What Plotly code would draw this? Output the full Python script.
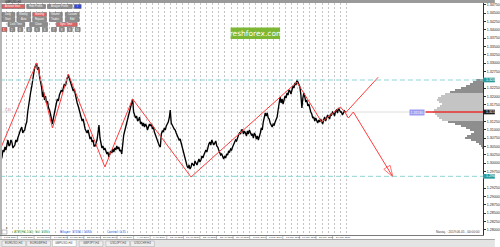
import plotly.graph_objects as go

# ---------------- data ----------------
# close price of each H4 bar, in units of 0.0001 (bar index = position)
close_x1e4 = [
    13024, 13009, 13018, 13039, 13033, 13048, 13039, 13060, 13069, 13051, 13054, 13069, 13063, 13045, 13051,
    13054, 13069, 13063, 13075, 13087, 13093, 13102, 13108, 13090, 13096, 13099, 13114, 13123, 13153, 13177,
    13198, 13213, 13228, 13255, 13267, 13285, 13291, 13300, 13279, 13288, 13258, 13243, 13228, 13198, 13213,
    13189, 13201, 13180, 13186, 13165, 13159, 13147, 13135, 13117, 13135, 13153, 13165, 13180, 13192, 13186,
    13204, 13210, 13219, 13213, 13231, 13237, 13231, 13249, 13255, 13264, 13255, 13249, 13237, 13228, 13216,
    13222, 13204, 13192, 13180, 13171, 13159, 13150, 13138, 13126, 13132, 13108, 13102, 13096, 13090, 13099,
    13078, 13072, 13078, 13063, 13069, 13051, 13051, 13060, 13069, 13090, 13114, 13075, 13054, 13045, 13051,
    13039, 13045, 13036, 13027, 13033, 13018, 13027, 13036, 13030, 13042, 13033, 13045, 13039, 13051, 13042,
    13048, 13036, 13039, 13027, 13060, 13084, 13096, 13108, 13120, 13135, 13150, 13165, 13177, 13186, 13192,
    13153, 13144, 13135, 13141, 13126, 13129, 13138, 13117, 13123, 13111, 13120, 13108, 13117, 13111, 13099,
    13108, 13117, 13111, 13117, 13102, 13108, 13093, 13084, 13075, 13066, 13060, 13051, 13048, 13087, 13096,
    13093, 13105, 13099, 13111, 13117, 13123, 13135, 13159, 13120, 13111, 13108, 13102, 13099, 13090, 13084,
    13078, 13069, 13072, 13060, 13045, 13033, 13018, 13009, 12997, 12991, 12985, 12994, 12982, 12988, 13000,
    12997, 12991, 13006, 13000, 12994, 13003, 13012, 13003, 13009, 13021, 13015, 13024, 13036, 13039, 13033,
    13051, 13057, 13063, 13054, 13069, 13063, 13054, 13060, 13066, 13051, 13048, 13039, 13033, 13024, 13027,
    13018, 13012, 13021, 13015, 13027, 13024, 13036, 13033, 13042, 13039, 13048, 13057, 13060, 13069, 13066,
    13078, 13084, 13090, 13087, 13099, 13099, 13087, 13096, 13090, 13081, 13096, 13087, 13099, 13093, 13084,
    13087, 13075, 13090, 13084, 13072, 13081, 13069, 13078, 13090, 13105, 13099, 13123, 13138, 13150, 13141,
    13150, 13135, 13132, 13120, 13111, 13108, 13117, 13114, 13123, 13132, 13138, 13159, 13174, 13198, 13180,
    13192, 13177, 13189, 13201, 13195, 13210, 13204, 13219, 13216, 13207, 13219, 13231, 13225, 13240, 13234,
    13249, 13243, 13237, 13228, 13204, 13165, 13195, 13210, 13198, 13183, 13189, 13171, 13177, 13159, 13153,
    13147, 13135, 13138, 13126, 13135, 13129, 13120, 13129, 13123, 13132, 13126, 13117, 13129, 13138, 13126,
    13135, 13144, 13138, 13132, 13147, 13144, 13153, 13150, 13141, 13156, 13159, 13150, 13165, 13159, 13153,
    13153, 13144, 13150, 13156, 13153]
bar_x = list(range(len(close_x1e4)))
close = [v / 10000 for v in close_x1e4]

zz_x = [0, 37, 53, 69, 106, 134, 193, 300, 325, 344, 349]
zz_p = [1.3039, 1.3300, 1.3105, 1.3267, 1.2988, 1.3192, 1.2958, 1.3243, 1.3123, 1.3168, 1.3150]
up_x = [349, 382]
up_p = [1.3150, 1.3257]
dn_x = [349, 352, 357, 397]
dn_p = [1.3150, 1.3135, 1.3153, 1.2958]

level_hi = 1.3249
level_lo = 1.2960
last_price = 1.3153

profile_prices = [1.3249, 1.3243, 1.3237, 1.3231, 1.3225, 1.3219, 1.3213, 1.3207, 1.3201, 1.3195, 1.3189,
                  1.3183, 1.3177, 1.3171, 1.3165, 1.3159, 1.3153, 1.3147, 1.3141, 1.3135, 1.3129, 1.3123,
                  1.3117, 1.3111, 1.3105, 1.3099, 1.3093, 1.3087, 1.3081, 1.3075, 1.3069, 1.3063, 1.3057,
                  1.3051, 1.3045]
profile_vol = [7, 10, 13, 17, 22, 28, 33, 38, 42, 45, 46, 44, 41, 43, 46, 50, 51, 48, 46, 44, 41, 35, 28,
               22, 17, 13, 9, 12, 16, 18, 12, 7, 4, 2, 1]
value_area = (1.3128, 1.3208)

date_labels = ["1 Mar 2019", "6 Mar 2019", "11 Mar 2019", "14 Mar 2019", "19 Mar 2019", "22 Mar 2019",
               "27 Mar 2019", "1 Apr 2019", "4 Apr 2019", "9 Apr 2019", "12 Apr 2019", "17 Apr 2019",
               "22 Apr 2019", "25 Apr 2019", "30 Apr 2019", "3 May 2019", "8 May 2019", "13 May 2019",
               "16 May 2019", "21 May 2019", "24 May 2019"]

# ---------------- layout helpers ----------------
W, H = 500, 247
PL, PR, PT, PB = 0, 488, 3, 235
Y_RANGE = [1.2784, 1.3480]
def px(x):
    return x / (PR - PL)
def py(y):
    return (PB - y) / (PB - PT)

FONT = "Liberation Sans"
fig = go.Figure()

# volume profile
prof_colors = ["#c4c4c4" if value_area[0] <= p <= value_area[1] else "#8e8e8e" for p in profile_prices]
fig.add_trace(go.Bar(y=profile_prices, x=profile_vol, orientation="h", xaxis="x2", yaxis="y",
                     width=0.0006, marker=dict(color=prof_colors, line=dict(width=0)),
                     hoverinfo="skip", showlegend=False))

# price
fig.add_trace(go.Scatter(x=bar_x, y=close, mode="lines", line=dict(color="#000000", width=1.35),
                         showlegend=False, hoverinfo="skip"))
# zigzag
red = "#ff3b3b"
fig.add_trace(go.Scatter(x=zz_x, y=zz_p, mode="lines", line=dict(color=red, width=1),
                         showlegend=False, hoverinfo="skip"))
fig.add_trace(go.Scatter(x=up_x, y=up_p, mode="lines", line=dict(color=red, width=1),
                         showlegend=False, hoverinfo="skip"))
fig.add_trace(go.Scatter(x=dn_x, y=dn_p, mode="lines+markers", line=dict(color=red, width=1),
                         marker=dict(symbol="arrow-open", size=[0, 0, 0, 12], angleref="previous",
                                     color=red, line=dict(color=red, width=1)),
                         showlegend=False, hoverinfo="skip"))

shapes = []
annotations = []

# current price faint line
shapes.append(dict(type="line", xref="x", yref="y", x0=0, x1=488, y0=last_price, y1=last_price,
                   line=dict(color="#dedede", width=1), layer="below"))
# cyan levels
for lv in (level_hi, level_lo):
    shapes.append(dict(type="line", xref="x", yref="y", x0=0, x1=488, y0=lv, y1=lv,
                       line=dict(color="#8fd6d6", width=1, dash="5px,3px")))
# red current line near profile
shapes.append(dict(type="line", xref="x", yref="y", x0=430, x1=488, y0=last_price, y1=last_price,
                   line=dict(color="#e83030", width=1.5)))
annotations.append(dict(x=413, y=last_price, xref="x", yref="y", text="1.31530", showarrow=False,
                        xanchor="left", yanchor="middle", font=dict(size=3.5, color="white", family=FONT),
                        bgcolor="#9c9cf0", borderpad=0.5))
annotations.append(dict(x=3, y=last_price + 0.0006, xref="x", yref="y", text="1.31", showarrow=False,
                        xanchor="left", yanchor="middle", font=dict(size=3, color="#e06a50", family=FONT)))

# price axis labels boxes
def axis_box(price, color, txt):
    h = 0.0007
    shapes.append(dict(type="rect", xref="paper", yref="y", x0=1.0, x1=500 / 488, y0=price - h, y1=price + h,
                       fillcolor=color, line=dict(width=0), layer="above"))
    annotations.append(dict(x=1.0 + 1 / 488, y=price, xref="paper", yref="y", text=txt, showarrow=False,
                            xanchor="left", yanchor="middle", font=dict(size=3.5, color="white", family=FONT)))
axis_box(level_hi, "#2a9c9c", "1.32490")
axis_box(level_lo, "#2a9c9c", "1.29600")
axis_box(last_price, "#202020", "1.31530")

# y tick values (skip those hidden under the label boxes)
ticks = [1.2800 + 0.0025 * k for k in range(28)]
ticks = [t for t in ticks if min(abs(t - b) for b in (level_hi, level_lo, last_price)) > 0.0011]

# top band and left strip
shapes.append(dict(type="rect", xref="paper", yref="paper", x0=0, x1=500 / 488, y0=1.0, y1=py(0),
                   fillcolor="#9a9a9a", line=dict(width=0)))
shapes.append(dict(type="rect", xref="paper", yref="paper", x0=0, x1=px(2), y0=0, y1=1,
                   fillcolor="#b4b4b4", line=dict(width=0)))

# logo
shapes.append(dict(type="rect", xref="paper", yref="paper", x0=px(233), x1=px(283), y0=py(39), y1=py(27.5),
                   fillcolor="#7db733", line=dict(width=0)))
annotations.append(dict(x=px(258), y=py(33.3), xref="paper", yref="paper", text="freshforex.com",
                        showarrow=False, xanchor="center", yanchor="middle",
                        font=dict(size=7.5, color="white", family="DejaVu Sans")))

# top-left buttons
RED_B, GRAY_B, BLUE_B = "#dc6464", "#8c8c8c", "#3448d0"
buttons = [
    (2, 25, 4.5, 8.5, RED_B, "Activate lines"), (27, 46, 4.5, 8.5, GRAY_B, "Hide Profile"),
    (48, 73, 4.5, 8.5, GRAY_B, "Analyze Profile"), (75, 82, 4.5, 8.5, BLUE_B, "i"),
    (2, 15, 12.5, 16.5, GRAY_B, "Daily"), (17, 31, 12.5, 16.5, GRAY_B, "Weekly"),
    (33, 47, 12.5, 16.5, RED_B, "Monthly"), (50, 63, 12.5, 16.5, GRAY_B, "Volume"),
    (66, 80, 12.5, 16.5, GRAY_B, "Custom"),
    (2, 15, 17.5, 21.5, GRAY_B, "Start"), (17, 31, 17.5, 21.5, GRAY_B, "Auto"),
    (33, 47, 17.5, 21.5, GRAY_B, "Repaint"), (50, 63, 17.5, 21.5, GRAY_B, "Trades"),
    (66, 80, 17.5, 21.5, GRAY_B, "Edit"),
    (8, 25, 22.5, 26.5, GRAY_B, "Lock Time"), (30, 48, 22.5, 26.5, GRAY_B, "Clean"),
    (57, 78, 22.5, 26.5, RED_B, "Sync Time"),
]
for i, x0 in enumerate([2, 10, 18, 27, 35, 43, 52, 60, 68, 76]):
    buttons.append((x0, x0 + 5, 27.5, 31.5, RED_B if i == 0 else GRAY_B, str(i + 1)))
for x0, x1, y0, y1, c, t in buttons:
    shapes.append(dict(type="rect", xref="paper", yref="paper", x0=px(x0), x1=px(x1), y0=py(y1), y1=py(y0),
                       fillcolor=c, line=dict(color="#5a5a5a", width=0.5), layer="above"))
    annotations.append(dict(x=px((x0 + x1) / 2), y=py((y0 + y1) / 2), xref="paper", yref="paper", text=t,
                            showarrow=False, xanchor="center", yanchor="middle",
                            font=dict(size=2.6, color="white", family=FONT)))
annotations.append(dict(x=px(3), y=py(1.6), xref="paper", yref="paper", text="GBPUSD,H4", showarrow=False,
                        xanchor="left", yanchor="middle", font=dict(size=2.8, color="#202020", family=FONT)))

# indicator row near bottom of plot
shapes.append(dict(type="rect", xref="paper", yref="paper", x0=px(2), x1=px(7), y0=py(234), y1=py(230),
                   fillcolor="white", line=dict(color="#808080", width=0.5)))
annotations.append(dict(x=px(4.5), y=py(232), xref="paper", yref="paper", text="x", showarrow=False,
                        font=dict(size=3, color="#404040", family=FONT)))
for x0, t, c in [(12, "ATR(H4,100): Val: 1684", "#2f9a2f"), (59, "Bilayer: 37466 / 1684", "#2f6fe0"),
                 (106, "Control: 0.35", "#2f6fe0")]:
    annotations.append(dict(x=px(x0), y=py(232.3), xref="paper", yref="paper", text=t, showarrow=False,
                            xanchor="left", yanchor="middle", font=dict(size=3.3, color=c, family=FONT)))
annotations.append(dict(x=px(487), y=py(232.3), xref="paper", yref="paper",
                        text="Nastaj. : 2019.06.05 , 00:00:00", showarrow=False, xanchor="right",
                        yanchor="middle", font=dict(size=3.2, color="#404040", family=FONT)))

# date axis labels
for i, t in enumerate(date_labels):
    annotations.append(dict(x=2 + 16.75 * i, y=py(237.6), xref="x", yref="paper", text=t, showarrow=False,
                            xanchor="left", yanchor="middle", font=dict(size=2.5, color="#303030", family=FONT)))
    shapes.append(dict(type="line", xref="x", yref="paper", x0=1 + 16.75 * i, x1=1 + 16.75 * i,
                       y0=py(236), y1=py(239), line=dict(color="#808080", width=0.5)))
# lines below date axis
shapes.append(dict(type="line", xref="paper", yref="paper", x0=0, x1=500 / 488, y0=py(239.5), y1=py(239.5),
                   line=dict(color="#909090", width=0.8)))
# bottom tab band
shapes.append(dict(type="rect", xref="paper", yref="paper", x0=0, x1=500 / 488, y0=py(247.5), y1=py(240),
                   fillcolor="#e4e4e4", line=dict(width=0)))
tabs = ["EURUSD,H4", "EURGBP,H4", "GBPUSD,H4", "GBPJPY,H4", "USDJPY,H4", "USDCHF,H4"]
tab_x = [2, 27, 53, 80, 107, 132]
for t, x0 in zip(tabs, tab_x):
    sel = t == "GBPUSD,H4"
    shapes.append(dict(type="rect", xref="paper", yref="paper", x0=px(x0), x1=px(x0 + 24),
                       y0=py(246.5), y1=py(240 if sel else 241),
                       fillcolor="#ffffff" if sel else "#eeeeee", line=dict(color="#a8a8a8", width=0.5)))
    annotations.append(dict(x=px(x0 + 12), y=py(243.5), xref="paper", yref="paper", text=t, showarrow=False,
                            xanchor="center", yanchor="middle", font=dict(size=3, color="#505050", family=FONT)))

grid_x = [6.6 + 6.13 * k for k in range(57)]

fig.update_layout(
    width=W, height=H, margin=dict(l=PL, r=W - PR, t=PT, b=H - PB),
    paper_bgcolor="white", plot_bgcolor="white", bargap=0, barmode="overlay",
    shapes=shapes, annotations=annotations, showlegend=False,
    font=dict(family=FONT),
    xaxis=dict(range=[0, 488], tickvals=grid_x, showticklabels=False, ticks="", showgrid=True,
               gridcolor="#c4c4c4", gridwidth=1, griddash="2px,2px", zeroline=False,
               showline=True, linecolor="#7a7a7a", linewidth=1, fixedrange=True),
    xaxis2=dict(range=[488, 0], overlaying="x", visible=False, fixedrange=True),
    yaxis=dict(range=Y_RANGE, side="right", tickvals=ticks, tickformat=".5f",
               showgrid=False, zeroline=False, ticks="outside", ticklen=2, tickcolor="#303030",
               tickfont=dict(size=3.6, color="#202020", family=FONT), showline=True,
               linecolor="#303030", linewidth=1, fixedrange=True),
)

fig.write_html("out.html", config={"displayModeBar": False})
